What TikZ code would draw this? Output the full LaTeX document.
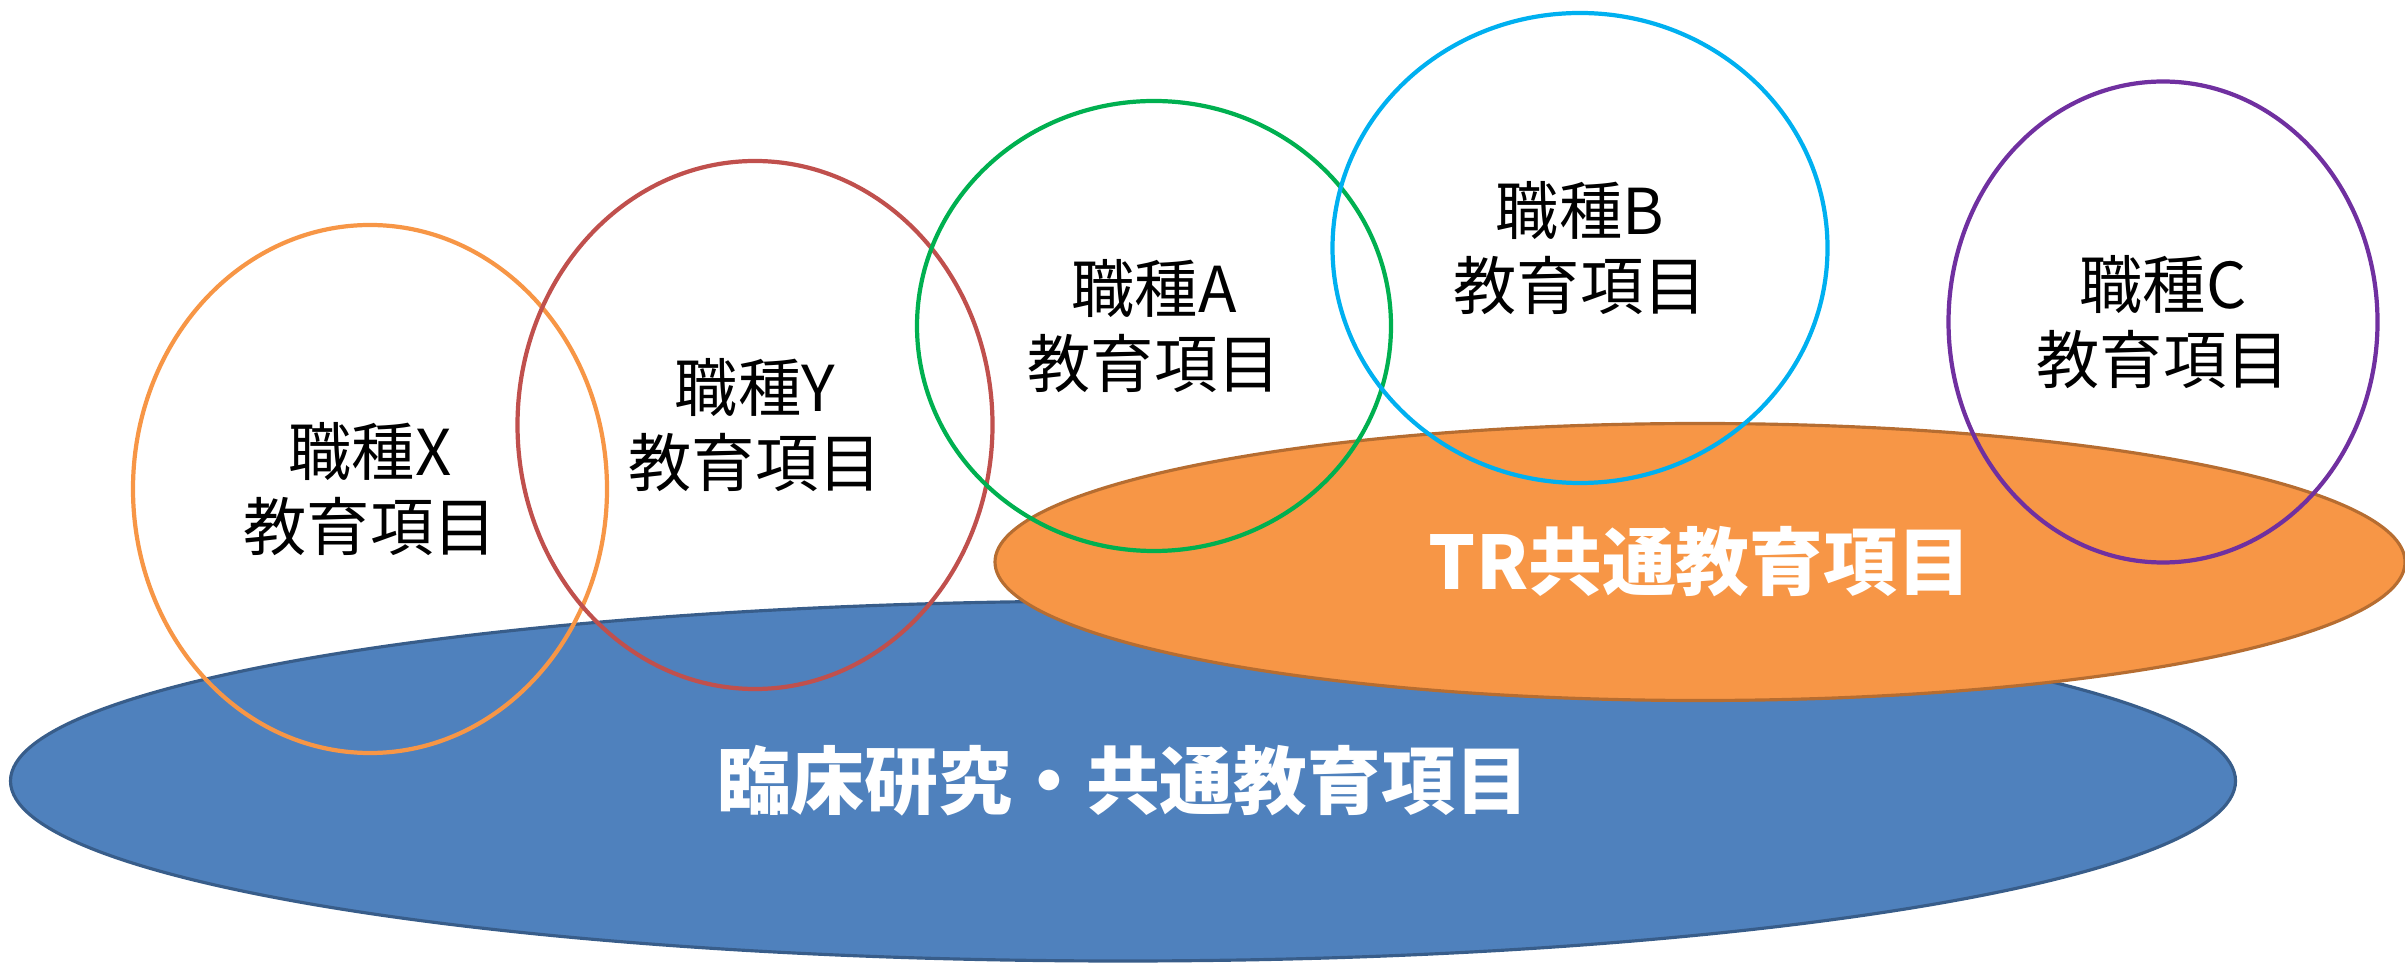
\documentclass[tikz,border=0pt]{standalone}
\usepackage{fontspec}
\setmainfont{Noto Sans CJK JP}
\usetikzlibrary{shapes.geometric}
\definecolor{jobx}{HTML}{F79646}
\definecolor{joby}{HTML}{C0504D}
\definecolor{joba}{HTML}{00B050}
\definecolor{jobb}{HTML}{00B0F0}
\definecolor{jobc}{HTML}{7030A0}
\definecolor{trfill}{HTML}{F79646}
\definecolor{trline}{HTML}{B66D31}
\definecolor{crfill}{HTML}{4F81BD}
\definecolor{crline}{HTML}{385D8A}

\begin{document}
\begin{tikzpicture}[
        every node/.style={ellipse, inner sep=0pt, align=center},
        area/.style={line width=0.9pt, text=white,
            font=\bfseries\fontsize{21}{25}\selectfont},
        job/.style={line width=1.2pt, text=black,
            font=\fontsize{18}{21.5}\selectfont}
    ]
    \useasboundingbox (0,0) rectangle (24.05,9.64);
    % common areas
    \node [area, draw=crline, fill=crfill, minimum width=22.25cm, minimum height=3.6cm]
        (clinical) at (11.23,1.83) {臨床研究・共通教育項目};
    \node [area, draw=trline, fill=trfill, minimum width=14.1cm, minimum height=2.77cm]
        (trcommon) at (17.00,4.02) {TR共通教育項目};
    % job circles
    \node [job, draw=jobx, minimum width=4.74cm, minimum height=5.28cm]
        (x) at (3.70,4.75) {職種X\\教育項目};
    \node [job, draw=joby, minimum width=4.75cm, minimum height=5.28cm]
        (y) at (7.55,5.39) {職種Y\\教育項目};
    \node [job, draw=joba, minimum width=4.74cm, minimum height=4.5cm]
        (a) at (11.54,6.38) {職種A\\教育項目};
    \node [job, draw=jobb, minimum width=4.95cm, minimum height=4.7cm]
        (b) at (15.80,7.16) {職種B\\教育項目};
    \node [job, draw=jobc, minimum width=4.29cm, minimum height=4.81cm]
        (c) at (21.63,6.42) {職種C\\教育項目};
\end{tikzpicture}
\end{document}
